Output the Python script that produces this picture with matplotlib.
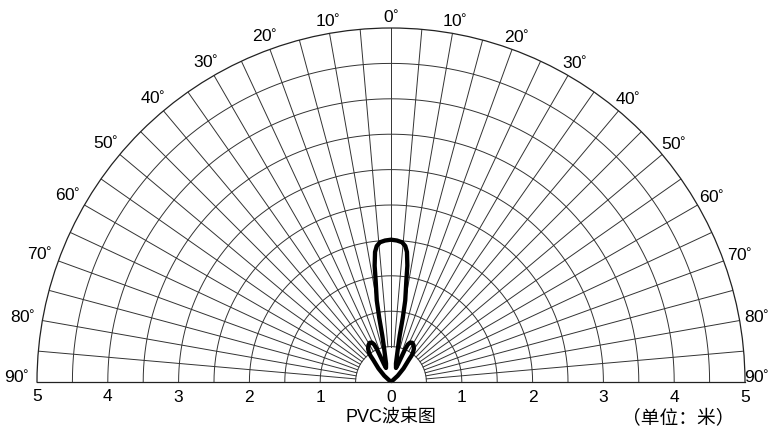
import numpy as np
import matplotlib

matplotlib.use("Agg")

import matplotlib.pyplot as plt  # noqa: E402

plt.rcParams["font.family"] = ["Liberation Sans", "Noto Sans CJK SC"]

# Beam outline: angle off boresight in degrees (negative = left side) and
# detection range in metres, traced from the left tip round to the right tip.
beam_angle_deg = [
    -47.0, -47.0, -42.8, -38.8, -38.0, -36.8, -34.5, -31.5, -28.5, -26.0,
    -24.2, -23.2, -22.6, -21.5, -19.6, -15.0, -12.5, -11.3, -10.6, -10.4,
    -9.9, -8.6, -8.0, -7.0, -6.0, -4.5, -2.4, 0.0,
    2.4, 4.5, 6.0, 7.0, 8.0, 8.6, 9.9, 10.4, 10.6, 11.3,
    12.5, 15.0, 19.6, 21.5, 22.6, 23.2, 24.2, 26.0, 28.5, 31.5,
    34.5, 36.8, 38.0, 38.8, 42.8, 47.0, 47.0,
]
beam_range_m = [
    0.00, 0.13, 0.26, 0.40, 0.47, 0.52, 0.57, 0.61, 0.63, 0.62,
    0.58, 0.50, 0.38, 0.27, 0.21, 0.27, 0.40, 0.52, 0.67, 0.92,
    1.17, 1.45, 1.66, 1.85, 1.93, 1.98, 2.00, 2.01,
    2.00, 1.98, 1.93, 1.85, 1.66, 1.45, 1.17, 0.92, 0.67, 0.52,
    0.40, 0.27, 0.21, 0.27, 0.38, 0.50, 0.58, 0.62, 0.63, 0.61,
    0.57, 0.52, 0.47, 0.40, 0.26, 0.13, 0.00,
]

angle_labels = [0, 10, 20, 30, 40, 50, 60, 70, 80, 90]
range_labels = [1, 2, 3, 4, 5]
title = "PVC波束图"
unit_note = "（单位：米）"

# grid: rings every 0.5 m, spokes every 5 degrees
ring_radii = np.arange(0.5, 5.0, 0.5)
spoke_angles = np.arange(-85, 90, 5)
R_MAX = 5.0

# layout in pixels: origin of the fan and pixel radius of the 5 m ring
W, H = 770, 433
CX, CY = 391, 382
RPX = 354

fig = plt.figure(figsize=(W / 100, H / 100), dpi=100)
# polar half-disc sits in the middle half of a square axes box
side = 2 * RPX
top_of_box = (CY - RPX / 2) - RPX
ax = fig.add_axes(
    [(CX - RPX) / W, (H - top_of_box - side) / H, side / W, side / H],
    projection="polar",
)
ax.set_theta_zero_location("N")
ax.set_theta_direction(-1)
ax.set_thetamin(-90)
ax.set_thetamax(90)
ax.set_rlim(0, R_MAX)
ax.grid(False)
ax.set_xticks([])
ax.set_yticks([])
for name, spine in ax.spines.items():
    spine.set_color("#222222")
    spine.set_linewidth(0.9)

grid_kw = dict(color="#333333", lw=0.7, zorder=1)
arc = np.radians(np.linspace(-90, 90, 721))
for r in ring_radii:
    ax.plot(arc, np.full_like(arc, r), **grid_kw)
for a in spoke_angles:
    t = np.radians(a)
    ax.plot([t, t], [ring_radii[0], R_MAX], **grid_kw)

ax.plot(
    np.radians(beam_angle_deg), beam_range_m,
    color="black", lw=3.1, solid_joinstyle="round", solid_capstyle="round",
    zorder=3,
)

# angle labels round the outer ring, both sides
for a in angle_labels:
    for sgn in ((0,) if a == 0 else (-1, 1)):
        t = np.radians(sgn * a if sgn else 0)
        d = 11 + 9 * abs(np.sin(t))
        if sgn > 0:
            d -= 3 * abs(np.sin(t))
        if sgn > 0 and a == 90:
            d = 12
        dy = d * np.cos(t) + (5 if a == 90 else 0)
        ax.annotate(
            f"{a}$^{{\\!\\!\\circ}}$", xy=(t, R_MAX),
            xytext=(d * np.sin(t), dy),
            textcoords="offset pixels", ha="center", va="center",
            fontsize=12.5, annotation_clip=False,
        )

# range labels along the base line
tick_kw = dict(textcoords="offset pixels", xytext=(0, -15), ha="center",
               va="center", fontsize=12.5, annotation_clip=False)
ax.annotate("0", xy=(0, 0), **tick_kw)
for r in range_labels:
    ax.annotate(str(r), xy=(-np.pi / 2, r), **tick_kw)
    ax.annotate(str(r), xy=(np.pi / 2, r), **tick_kw)

fig.text(CX / W, 1 - 418 / H, title, ha="center", va="center", fontsize=13)
fig.text(678 / W, 1 - 419 / H, unit_note, ha="center", va="center",
         fontsize=13.5)

fig.savefig("out.png", dpi=100, facecolor="white")
